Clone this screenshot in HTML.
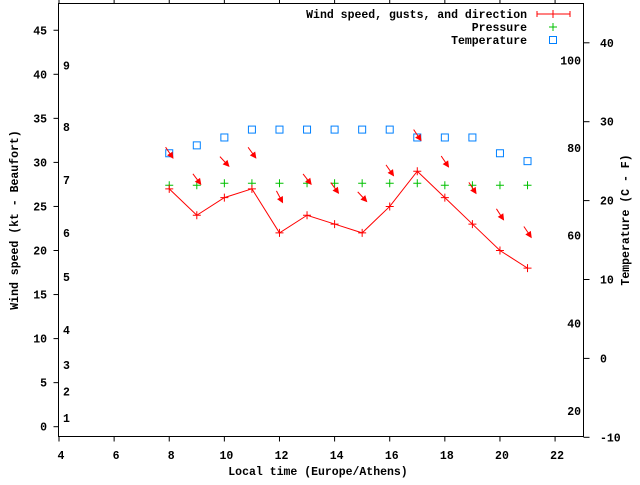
<!DOCTYPE html>
<html><head><meta charset="utf-8"><style>
html,body{margin:0;padding:0;background:#fff;}
svg text{font-family:"Liberation Mono",monospace;font-size:11.5px;font-weight:bold;fill:#000;}
</style></head><body>
<svg id="chart" width="640" height="480" xmlns="http://www.w3.org/2000/svg">
<g id="frame"></g>
<g id="axes"></g>
<g id="series"></g>
<g id="legend">
<text x="527" y="18" text-anchor="end">Wind speed, gusts, and direction</text>
<line x1="537" y1="14" x2="570" y2="14" stroke="#f00"/>
<line x1="537" y1="11" x2="537" y2="17" stroke="#f00"/>
<line x1="570" y1="11" x2="570" y2="17" stroke="#f00"/>
<line x1="553" y1="10" x2="553" y2="18" stroke="#f00"/>
<text x="527" y="31" text-anchor="end">Pressure</text>
<path d="M549 27h8M553 23v8" stroke="#00c000"/>
<text x="527" y="44" text-anchor="end">Temperature</text>
<rect x="549.5" y="36.5" width="7" height="7" fill="none" stroke="#0080ff"/>
</g>
<text x="318" y="475" text-anchor="middle">Local time (Europe/Athens)</text>
<text transform="translate(18,220) rotate(-90)" text-anchor="middle">Wind speed (kt - Beaufort)</text>
<text transform="translate(629,220) rotate(-90)" text-anchor="middle">Temperature (C - F)</text>
</svg>
<script>
const hours = [8,9,10,11,12,13,14,15,16,17,18,19,20,21];
const windKt = [27,24,26,27,22,24,23,22,25,29,26,23,20,18];
const gustKt = [31,28,30,31,26,28,27,26,29,33,30,27,24,22];
const windDir = [326,323,317,324,332,322,324,317,325,326,326,327,327,326];
const pressure = [1012,1012,1013,1013,1013,1013,1013,1013,1013,1013,1012,1012,1012,1012];
const tempC = [26,27,28,29,29,29,29,29,29,28,28,28,26,25];
const xTicks = [4,6,8,10,12,14,16,18,20,22];
const yTicks = [0,5,10,15,20,25,30,35,40,45];
const y2Ticks = [-10,0,10,20,30,40];
const beaufortKt = [1,4,7,11,17,22,28,34,41];
const beaufortLabels = ["1","2","3","4","5","6","7","8","9"];
const fahrenheitTicks = [20,40,60,80,100];

const L=58.5,R=583.5,T=3.5,B=436.5;
const X=v=>59+(v-4)*27.56;
const Y=v=>426.7-v*8.81;
const Y2=v=>437.3-(v+10)*7.89;
const YP=p=>183.3+(1013-p)*2;
const NS="http://www.w3.org/2000/svg";
function mk(tag,attrs,parent,txt){const e=document.createElementNS(NS,tag);for(const k in attrs)e.setAttribute(k,attrs[k]);if(txt!==undefined)e.textContent=txt;parent.appendChild(e);return e;}
const frame=document.getElementById('frame'),axes=document.getElementById('axes'),series=document.getElementById('series');
let f=mk('rect',{x:L,y:T,width:R-L,height:B-T,fill:'none',stroke:'#000'},frame);
xTicks.forEach(t=>{const x=X(t);
 let a=mk('line',{x1:x,y1:B,x2:x,y2:B+5,stroke:'#000'},axes);
 
 
 let b=mk('line',{x1:x,y1:T,x2:x,y2:T-5,stroke:'#000'},axes);
 
 
 let c=mk('text',{x:x+2,y:459,'text-anchor':'middle'},axes,String(t));
 
 
});
yTicks.forEach(t=>{const y=Y(t);
 let a=mk('line',{x1:L,y1:y,x2:L-5,y2:y,stroke:'#000'},axes);
 
 
 let c=mk('text',{x:47,y:y+4,'text-anchor':'end'},axes,String(t));
 
 
});
y2Ticks.forEach(t=>{const y=Y2(t);
 let a=mk('line',{x1:R,y1:y,x2:R+6,y2:y,stroke:'#000'},axes);
 
 
 let c=mk('text',{x:600,y:y+4,'text-anchor':'start'},axes,String(t));
 
 
});
beaufortKt.forEach((k,i)=>{
 let c=mk('text',{x:63,y:Y(k)+4,'text-anchor':'start'},axes,beaufortLabels[i]);
 
 
});
fahrenheitTicks.forEach(fv=>{
 let c=mk('text',{x:581,y:Y2((fv-32)*5/9)+4,'text-anchor':'end'},axes,String(fv));
 
 
});
// temperature
hours.forEach((h,i)=>{
 let s=mk('rect',{x:X(h)-3.5,y:Y2(tempC[i])-3.5,width:7,height:7,fill:'none',stroke:'#0080ff'},series);
 
 
});
// pressure
hours.forEach((h,i)=>{const x=X(h),y=YP(pressure[i]);
 let p=mk('path',{d:`M${x-4} ${y}h8M${x} ${y-4}v8`,stroke:'#00c000'},series);
 
 
});
// wind line
let pl=mk('polyline',{points:hours.map((h,i)=>X(h)+','+Y(windKt[i])).join(' '),fill:'none',stroke:'#f00'},series);


hours.forEach((h,i)=>{const x=X(h),y=Y(windKt[i]);
 let p=mk('path',{d:`M${x-4} ${y}h8M${x} ${y-4}v8`,stroke:'#f00'},series);
 
 
});
// direction arrows at gust level
hours.forEach((h,i)=>{
 const b=(windDir[i]+180)*Math.PI/180, len=13;
 const dx=Math.sin(b)*len, dy=-Math.cos(b)*len;
 const cx=X(h), cy=Y(gustKt[i])-1;
 const x1=cx-dx/2,y1=cy-dy/2,x2=cx+dx/2,y2=cy+dy/2;
 const ux=dx/len,uy=dy/len;
 const hx=x2-ux*5,hy=y2-uy*5;
 let g=mk('g',{},series);
 
 
 mk('line',{x1:x1,y1:y1,x2:x2,y2:y2,stroke:'#f00'},g);
 mk('polygon',{points:`${x2},${y2} ${hx-uy*2.5},${hy+ux*2.5} ${hx+uy*2.5},${hy-ux*2.5}`,fill:'#f00',stroke:'#f00'},g);
});
</script>
</body></html>
